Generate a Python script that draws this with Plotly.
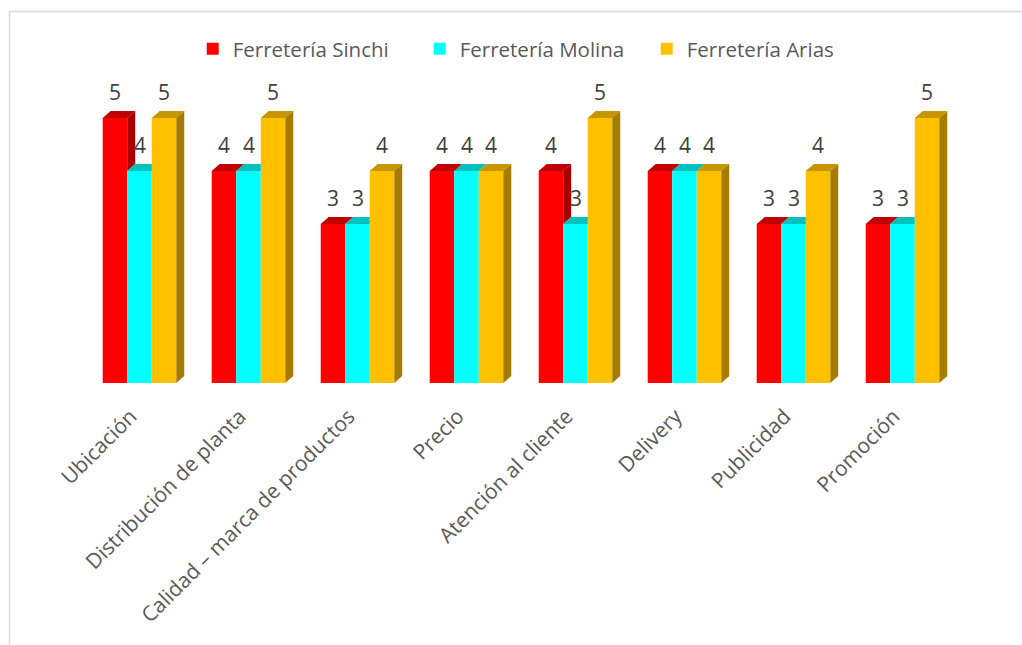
import plotly.graph_objects as go

categories = ["Ubicación", "Distribución de planta", "Calidad – marca de productos",
              "Precio", "Atención al cliente", "Delivery", "Publicidad", "Promoción"]
series_names = ["Ferretería Sinchi", "Ferretería Molina", "Ferretería Arias"]
sinchi = [5, 4, 3, 4, 4, 4, 3, 3]
molina = [4, 4, 3, 4, 3, 4, 3, 3]
arias = [5, 5, 4, 4, 5, 4, 4, 5]
series_values = [sinchi, molina, arias]

front_colors = ["#FF0000", "#00FFFF", "#FFC000"]
top_colors = ["#C00000", "#00C0C0", "#C79500"]
side_colors = ["#A80000", "#00A8A8", "#A67C00"]

BAR_W = 0.225          # bar width in category units
DX, DY = 0.073, 0.13   # 3D depth offset (x in category units, y in value units)
LABEL_NUDGE = 0.08     # slanted category labels sit slightly left of the group centre
TEXT = "#404040"
GREY = "#595959"
FONT = "Open Sans"

# plot area in pixels, used to place the frame around the chart
L, R, T, B = 85, 65, 65, 262
PW, PH = 1022 - L - R, 645 - T - B

fig = go.Figure()
n_series = len(series_values)
x_pos = []
for j in range(n_series):
    x_pos.append([i + (j - (n_series - 1) / 2) * BAR_W for i in range(len(categories))])

# front faces
for j, (name, vals) in enumerate(zip(series_names, series_values)):
    fig.add_trace(go.Bar(
        x=x_pos[j], y=vals, width=BAR_W, name=name,
        marker=dict(color=front_colors[j], line=dict(width=0)),
        hoverinfo="y",
    ))

# top and side faces, trimmed where the neighbouring bar's front hides them
for j, vals in enumerate(series_values):
    for i, v in enumerate(vals):
        x0 = x_pos[j][i] - BAR_W / 2
        x1 = x_pos[j][i] + BAR_W / 2
        nxt = series_values[j + 1][i] if j + 1 < n_series else None
        if nxt is not None and nxt > v:
            tx = [x0, x1, x1, x0 + DX, x0]
        else:
            tx = [x0, x1, x1 + DX, x0 + DX, x0]
        ty = [v, v, v + DY, v + DY, v]
        fig.add_trace(go.Scatter(x=tx, y=ty, fill="toself", mode="lines",
                                 line=dict(width=0), fillcolor=top_colors[j],
                                 showlegend=False, hoverinfo="skip"))
        if nxt is None:
            base = 0
        elif nxt < v:
            base = nxt
        else:
            continue
        sx = [x1, x1, x1 + DX, x1 + DX, x1]
        sy = [base, v, v + DY, base + DY, base]
        fig.add_trace(go.Scatter(x=sx, y=sy, fill="toself", mode="lines",
                                 line=dict(width=0), fillcolor=side_colors[j],
                                 showlegend=False, hoverinfo="skip"))

# value labels
for j, vals in enumerate(series_values):
    for i, v in enumerate(vals):
        fig.add_annotation(x=x_pos[j][i], y=v, text=str(v), showarrow=False,
                           yanchor="bottom", yshift=10,
                           font=dict(family=FONT, size=21, color=TEXT))

fig.update_layout(
    width=1022, height=645,
    margin=dict(l=L, r=R, t=T, b=B),
    paper_bgcolor="white", plot_bgcolor="white",
    showlegend=True,
    legend=dict(orientation="h", x=0.514, xanchor="center",
                y=(PH + T - 49) / PH, yanchor="middle",
                entrywidth=182, itemwidth=30,
                font=dict(family=FONT, size=20.5, color=GREY), traceorder="normal"),
    xaxis=dict(range=[-0.5, len(categories) - 0.5], tickmode="array",
               tickvals=[i - LABEL_NUDGE for i in range(len(categories))],
               ticktext=categories,
               tickangle=-45, showgrid=False, zeroline=False, showline=False,
               ticks="", ticklabelstandoff=16,
               tickfont=dict(family=FONT, size=21, color=GREY)),
    yaxis=dict(range=[0, 6], visible=False),
    shapes=[dict(type="rect", xref="paper", yref="paper",
                 x0=(9.5 - L) / PW, x1=(1040 - L) / PW,
                 y0=(PH + T - 660) / PH, y1=(PH + T - 11.5) / PH,
                 line=dict(color="#D9D9D9", width=1.5), fillcolor="rgba(0,0,0,0)")],
)

fig.write_html("out.html")
